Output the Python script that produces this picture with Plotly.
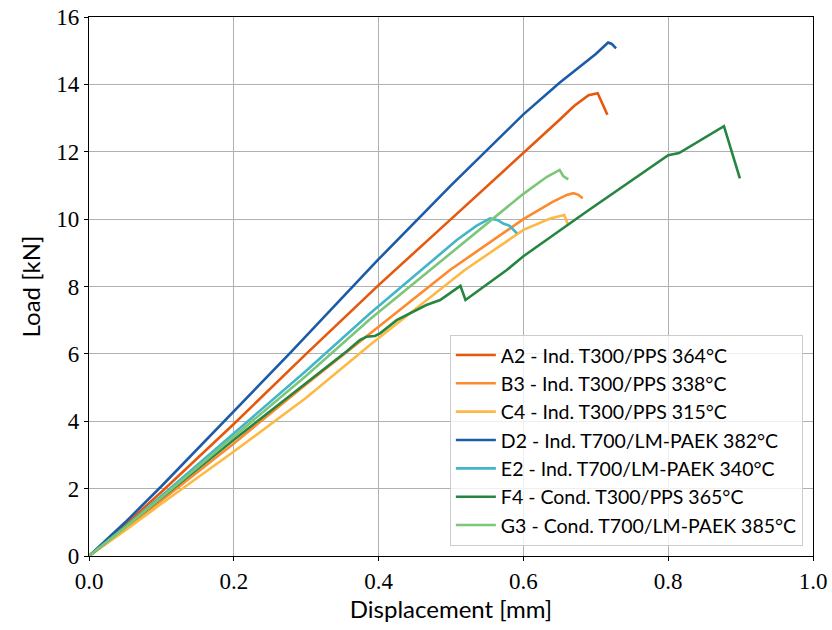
import plotly.graph_objects as go

# ---- data (displacement [mm], load [kN]) ----
names = [
    "A2 - Ind. T300/PPS 364°C",
    "B3 - Ind. T300/PPS 338°C",
    "C4 - Ind. T300/PPS 315°C",
    "D2 - Ind. T700/LM-PAEK 382°C",
    "E2 - Ind. T700/LM-PAEK 340°C",
    "F4 - Cond. T300/PPS 365°C",
    "G3 - Cond. T700/LM-PAEK 385°C",
]
colors = ["#e5590f", "#fd8a2c", "#fdb944", "#1c5ba8", "#42b5c8", "#268540", "#7cc67a"]

A2_x = [0, 0.05, 0.1, 0.2, 0.3, 0.4, 0.5, 0.6, 0.65, 0.67, 0.684, 0.69, 0.7026, 0.716]
A2_y = [0, 0.93, 1.9, 3.92, 6.0, 8.04, 10.0, 11.95, 12.95, 13.36, 13.6, 13.68, 13.74, 13.1]

B3_x = [0, 0.05, 0.1, 0.2, 0.3, 0.388, 0.4986, 0.6, 0.641, 0.66, 0.669, 0.676, 0.682]
B3_y = [0, 0.81, 1.65, 3.34, 5.1, 6.61, 8.49, 10.0, 10.52, 10.72, 10.77, 10.72, 10.62]

C4_x = [0, 0.05, 0.1, 0.2, 0.3, 0.388, 0.519, 0.6, 0.637, 0.65, 0.6565, 0.662]
C4_y = [0, 0.76, 1.55, 3.1, 4.7, 6.26, 8.49, 9.68, 10.02, 10.1, 10.12, 9.82]

D2_x = [0, 0.05, 0.1, 0.2, 0.2776, 0.4, 0.5, 0.6, 0.65, 0.7, 0.71, 0.717, 0.722, 0.728]
D2_y = [0, 1.0, 2.07, 4.28, 6.02, 8.81, 11.0, 13.11, 14.05, 14.9, 15.1, 15.24, 15.2, 15.07]

E2_x = [0, 0.05, 0.1, 0.2, 0.3, 0.388, 0.4595, 0.508, 0.535, 0.554, 0.565, 0.572, 0.581, 0.591]
E2_y = [0, 0.87, 1.78, 3.65, 5.5, 7.2, 8.49, 9.38, 9.8, 10.02, 9.97, 9.87, 9.8, 9.58]

F4_x = [0, 0.05, 0.1, 0.2, 0.31, 0.356, 0.374, 0.3835, 0.395, 0.402, 0.425, 0.466, 0.485,
        0.513, 0.520, 0.577, 0.6, 0.687, 0.8, 0.8117, 0.815, 0.877, 0.899]
F4_y = [0, 0.85, 1.72, 3.45, 5.3, 6.08, 6.41, 6.51, 6.53, 6.61, 7.0, 7.45, 7.6,
        8.02, 7.6, 8.49, 8.9, 10.22, 11.9, 11.95, 11.96, 12.76, 11.21]

G3_x = [0, 0.05, 0.1, 0.2, 0.3, 0.388, 0.469, 0.55, 0.6, 0.632, 0.65, 0.655, 0.662]
G3_y = [0, 0.85, 1.74, 3.55, 5.35, 7.03, 8.45, 9.85, 10.75, 11.25, 11.46, 11.28, 11.18]

series_x = [A2_x, B3_x, C4_x, D2_x, E2_x, F4_x, G3_x]
series_y = [A2_y, B3_y, C4_y, D2_y, E2_y, F4_y, G3_y]

x_ticks = [0.0, 0.2, 0.4, 0.6, 0.8, 1.0]
y_ticks = [0, 2, 4, 6, 8, 10, 12, 14, 16]

SERIF = "Liberation Serif, DejaVu Serif, serif"
SANS = "Lato, DejaVu Sans, sans-serif"

fig = go.Figure()
for n, c, xs, ys in zip(names, colors, series_x, series_y):
    fig.add_trace(go.Scatter(x=xs, y=ys, mode="lines", name=n,
                             line=dict(color=c, width=2.6)))

axis_common = dict(
    showline=True, linecolor="black", linewidth=1.2, mirror=True,
    showgrid=True, gridcolor="#b0b0b0", gridwidth=0.8,
    ticks="outside", ticklen=4, tickcolor="black", tickwidth=1,
    zeroline=False, automargin=False,
    tickfont=dict(family=SERIF, size=23, color="black"),
)

fig.update_layout(
    width=832, height=630,
    margin=dict(l=89, r=19, t=17, b=74),
    paper_bgcolor="white", plot_bgcolor="white",
    xaxis=dict(range=[0, 1.0], tickvals=x_ticks, tickformat=".1f",
               title=dict(text="Displacement [mm]", font=dict(family=SANS, size=24, color="black"),
                          standoff=6),
               **axis_common),
    yaxis=dict(range=[0, 16], tickvals=y_ticks,
               title=dict(text="Load [kN]", font=dict(family=SANS, size=24, color="black"),
                          standoff=8),
               **axis_common),
    legend=dict(x=0.986, y=0.019, xanchor="right", yanchor="bottom",
                bgcolor="rgba(255,255,255,0.8)", bordercolor="#cccccc", borderwidth=1,
                font=dict(family=SANS, size=19.5, color="black"),
                itemwidth=40, tracegroupgap=0),
    showlegend=True,
)

fig.write_html("out.html", config={"displayModeBar": False},
               post_script="document.body.style.margin='0px';document.body.style.overflow='hidden';")
